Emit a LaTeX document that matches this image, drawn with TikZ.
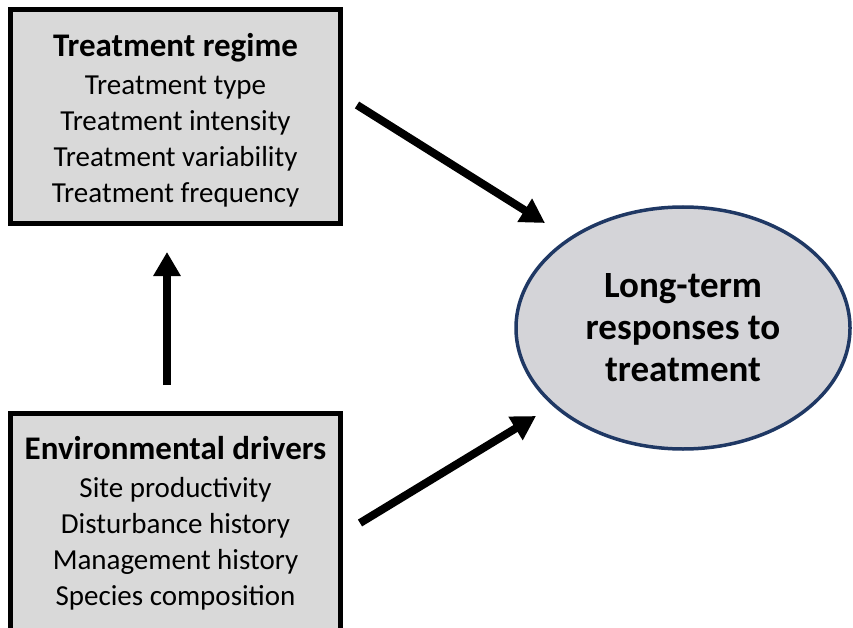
\documentclass[tikz,border=0pt]{standalone}
\usepackage{fontspec}
\setmainfont{Carlito}
\usetikzlibrary{shapes.geometric,arrows.meta}
\definecolor{boxgray}{HTML}{D9D9D9}
\definecolor{ellgray}{HTML}{D4D4D8}
\definecolor{navy}{HTML}{1F3864}
\newcommand{\boxtitle}[1]{{\fontsize{33}{38}\selectfont\bfseries #1}}
\tikzset{
  infobox/.style={draw=black, line width=5pt, fill=boxgray, minimum width=330pt, inner sep=0pt, align=center,
    font=\fontsize{29}{36}\selectfont},
  bigarrow/.style={line width=8pt, -{Triangle[width=26pt,length=24pt]}},
}
\begin{document}
\begin{tikzpicture}[x=1pt,y=-1pt]
\useasboundingbox (0,0) rectangle (853,628);
\clip (0,0) rectangle (853,628);
\node[infobox, minimum height=214pt] (regime) at (175.5,117) {};
\node[align=center, font=\fontsize{29}{36}\selectfont, inner sep=0pt] (regtext) at (175.5,120)
  {\boxtitle{Treatment regime}\\[2pt]Treatment type\\Treatment intensity\\Treatment variability\\Treatment frequency};
\node[infobox, minimum height=220pt] (drivers) at (175.5,523) {};
\node[align=center, font=\fontsize{29}{36}\selectfont, inner sep=0pt] (drvtext) at (175.5,523)
  {\boxtitle{Environmental drivers}\\[2pt]Site productivity\\Disturbance history\\Management history\\Species composition};
\node[ellipse, draw=navy, line width=3.5pt, fill=ellgray, minimum width=334pt, minimum height=242pt,
  inner sep=0pt, align=center, font=\fontsize{37}{42}\selectfont\bfseries] (resp) at (683,328)
  {Long-term\\responses to\\treatment};
\coordinate (a1s) at (357,105);
\coordinate (a1e) at (545,223);
\coordinate (a2s) at (360,523);
\coordinate (a2e) at (536,416);
\coordinate (a3s) at (167,385);
\coordinate (a3e) at (167,252);
\draw[bigarrow] (a1s) -- (a1e);
\draw[bigarrow] (a2s) -- (a2e);
\draw[bigarrow] (a3s) -- (a3e);
\end{tikzpicture}
\end{document}
